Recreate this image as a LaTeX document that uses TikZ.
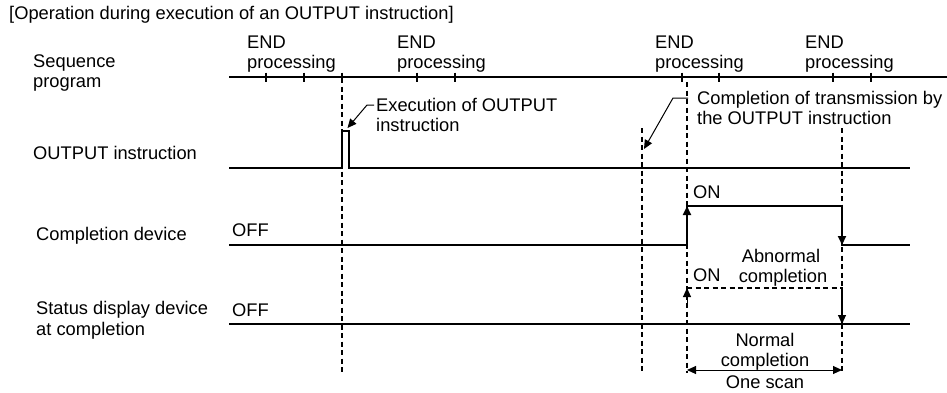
\documentclass[tikz,border=0pt]{standalone}
\usepackage{fontspec}
\setmainfont{Liberation Sans}
\usetikzlibrary{arrows.meta}
\tikzset{
  txt/.style={inner sep=0pt, anchor=base west, font=\fontsize{18.3pt}{20pt}\selectfont},
  ctxt/.style={inner sep=0pt, anchor=base, font=\fontsize{18.3pt}{20pt}\selectfont},
  sig/.style={line width=2pt},
  guide/.style={line width=1.1pt, dash pattern=on 5pt off 3.5pt},
  tick/.style={line width=1.6pt},
  lead/.style={line width=1pt},
  tip/.style={-{Triangle[length=9pt,width=8pt]}},
}
\begin{document}
\begin{tikzpicture}[x=1pt,y=-1pt]
\useasboundingbox (0,0) rectangle (947,392);
% title
\node[txt] (title) at (9,19) {[Operation during execution of an OUTPUT instruction]};
% row labels
\node[txt] (seq1) at (33,67) {Sequence};
\node[txt] (seq2) at (33,87) {program};
\node[txt] (outl) at (33,159) {OUTPUT instruction};
\node[txt] (cdl) at (36,240) {Completion device};
\node[txt] (sd1) at (36,314) {Status display device};
\node[txt] (sd2) at (36,335) {at completion};
% END processing labels
\foreach \x/\n in {247/a,397/b,655/c,805/d}{
  \node[txt] (end\n) at (\x,48) {END};
  \node[txt] (proc\n) at (\x,68) {processing};
}
% sequence line
\coordinate (s0) at (229,77);
\coordinate (s1) at (947,77);
\draw[sig] (s0) -- (s1);
\foreach \x in {266,304,342,417,455,682,719,833,871}{
  \draw[tick] (\x,72.5) -- (\x,81.5);
}
% dashed guides
\coordinate (g1t) at (342,78);  \coordinate (g1b) at (342,373);
\coordinate (g2t) at (642,128); \coordinate (g2b) at (642,373);
\coordinate (g3t) at (687,82);  \coordinate (g3b) at (687,373);
\coordinate (g4t) at (842,128); \coordinate (g4b) at (842,373);
\draw[guide] (g1t) -- (g1b);
\draw[guide] (g2t) -- (g2b);
\draw[guide] (g3t) -- (g3b);
\draw[guide] (g4t) -- (g4b);
% OUTPUT instruction
\coordinate (o0) at (229,168);
\coordinate (o1) at (910,168);
\draw[sig] (o0) -- (341.5,168) -- (341.5,131) -- (349,131) -- (349,168) -- (o1);
% execution leader
\node[txt] (ex1) at (376,111) {Execution of OUTPUT};
\node[txt] (ex2) at (376,131) {instruction};
\coordinate (exs) at (374,105);
\coordinate (exk) at (367,105);
\coordinate (ext) at (347.5,128);
\draw[lead,tip] (exs) -- (exk) -- (ext);
% completion leader
\node[txt] (ct1) at (697,104) {Completion of transmission by};
\node[txt] (ct2) at (697,124) {the OUTPUT instruction};
\coordinate (cts) at (688,98);
\coordinate (ctk) at (673,98);
\coordinate (ctt) at (644,149);
\draw[lead,tip] (cts) -- (ctk) -- (ctt);
% completion device
\coordinate (c0) at (229,245);
\coordinate (c1) at (910,245);
\coordinate (cu) at (687,206);
\coordinate (cd) at (842,245);
\draw[sig] (c0) -- (687,245) -- (cu) -- (842,206) -- (cd) -- (c1);
\draw[sig,tip] (687,230) -- (cu);
\draw[sig,tip] (842,225) -- (cd);
\node[txt] (on1) at (693,198) {ON};
\node[txt] (off1) at (232,236) {OFF};
% status display
\coordinate (d0) at (229,324);
\coordinate (d1) at (910,324);
\draw[sig] (d0) -- (d1);
\coordinate (du) at (687,288);
\coordinate (dd) at (842,324);
\draw[guide] (du) -- (842,288) -- (dd);
\draw[lead,tip] (687,305) -- (du);
\draw[lead,tip] (842,305) -- (dd);
\node[txt] (on2) at (693,281) {ON};
\node[txt] (off2) at (232,316) {OFF};
\node[ctxt] (ab1) at (781,262) {Abnormal};
\node[ctxt] (ab2) at (783,282) {completion};
\node[ctxt] (no1) at (765,346) {Normal};
\node[ctxt] (no2) at (765,366) {completion};
% one scan
\coordinate (sa) at (687,370);
\coordinate (sb) at (842,370);
\draw[lead,{Triangle[length=9pt,width=8pt]}-{Triangle[length=9pt,width=8pt]}] (sa) -- (sb);
\node[ctxt] (os) at (765,388) {One scan};
\end{tikzpicture}
\end{document}
